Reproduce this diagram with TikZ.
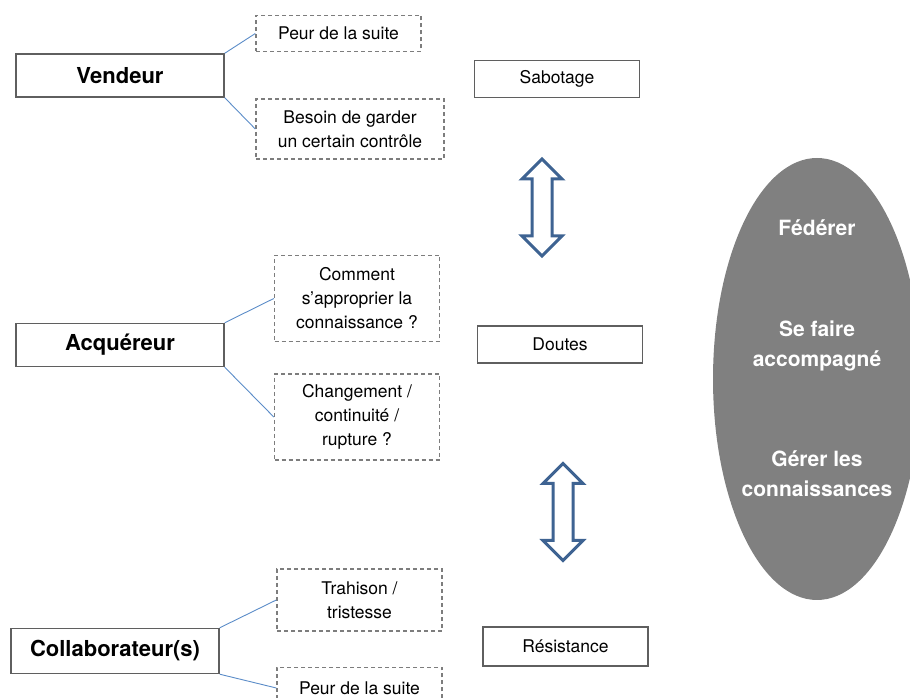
\documentclass[tikz,border=0pt]{standalone}
\usepackage{fontspec}
\setmainfont{TeX Gyre Heros}
\usetikzlibrary{shapes.geometric, shapes.arrows}

\definecolor{linkblue}{RGB}{91,140,200}
\definecolor{arrowblue}{RGB}{62,99,146}
\definecolor{boxgray}{RGB}{95,95,95}
\definecolor{dashgray}{RGB}{125,125,125}

\tikzset{
    actor/.style={draw=boxgray, line width=1.4pt, minimum width=208pt, minimum height=43pt,
        inner sep=0pt, font=\fontsize{22}{26}\selectfont\bfseries},
    effect/.style={draw=boxgray, line width=1.4pt, minimum width=165pt, minimum height=37pt,
        inner sep=0pt, font=\fontsize{17.5}{22}\selectfont},
    worry/.style={draw=dashgray, line width=1.4pt, dash pattern=on 4pt off 3pt,
        minimum width=165pt, inner sep=0pt, align=center,
        font=\fontsize{17.5}{24}\selectfont},
    link/.style={draw=linkblue, line width=0.9pt},
    swap/.style={double arrow, draw=arrowblue, fill=white, line width=3pt, rotate=90,
        minimum height=97pt, minimum width=37pt, inner sep=0pt, inner ysep=8.5pt,
        double arrow head extend=10pt},
    lever/.style={text=white, align=center, font=\fontsize{21}{30}\selectfont\bfseries}
}

\begin{document}
\begin{tikzpicture}[x=1pt, y=1pt]
    \useasboundingbox (0,0) rectangle (910,698);
    \clip (0,0) rectangle (910,698);

    % ================= Vendeur =================
    \node[actor] (vend) at (120,622.5) {Vendeur};
    \node[worry, minimum height=36pt] (vendpeur) at (338.5,664.5) {Peur de la suite};
    \node[worry, minimum width=188pt, minimum height=60pt] (vendctrl) at (350,569)
        {Besoin de garder\\un certain contrôle};
    \draw[link] (vend.north east) -- (vendpeur.west);
    \draw[link] (vend.south east) -- (vendctrl.west);

    % ================= Acquéreur =================
    \node[actor] (acq) at (120,353) {Acquéreur};
    \node[worry, minimum height=86pt] (acqsavoir) at (357,399.5)
        {Comment\\s’approprier la\\connaissance ?};
    \node[worry, minimum height=86pt] (acqrupture) at (357,281)
        {Changement /\\continuité /\\rupture ?};
    \draw[link] (acq.north east) -- (acqsavoir.west);
    \draw[link] (acq.south east) -- (acqrupture.west);

    % ================= Collaborateur(s) =================
    \node[actor, minimum height=45pt] (collab) at (115,47) {Collaborateur(s)};
    \node[worry, minimum height=62pt] (collabtrahi) at (359.5,98)
        {Trahison /\\tristesse};
    \node[worry, minimum height=41pt] (collabpeur) at (359.5,10) {Peur de la suite};
    \draw[link] (collab.north east) -- (collabtrahi.west);
    \draw[link] (collab.south east) -- (collabpeur.west);

    % ================= Reactions =================
    \node[effect] (sabot) at (557,619) {Sabotage};
    \node[effect] (doutes) at (560,353.5) {Doutes};
    \node[effect, minimum height=39pt] (resist) at (565.5,51.5) {Résistance};
    \node[swap] (swapup) at (542,490.5) {};
    \node[swap] (swapdown) at (563,186) {};

    % ================= Levers =================
    \node[ellipse, fill=gray, minimum width=208pt, minimum height=442pt, inner sep=0pt]
        (levers) at (817,319) {};
    \node[lever] (federer) at (817,470) {Fédérer};
    \node[lever] (accomp) at (817,352) {Se faire\\accompagné};
    \node[lever] (gerer) at (817,224) {Gérer les\\connaissances};

\end{tikzpicture}
\end{document}
